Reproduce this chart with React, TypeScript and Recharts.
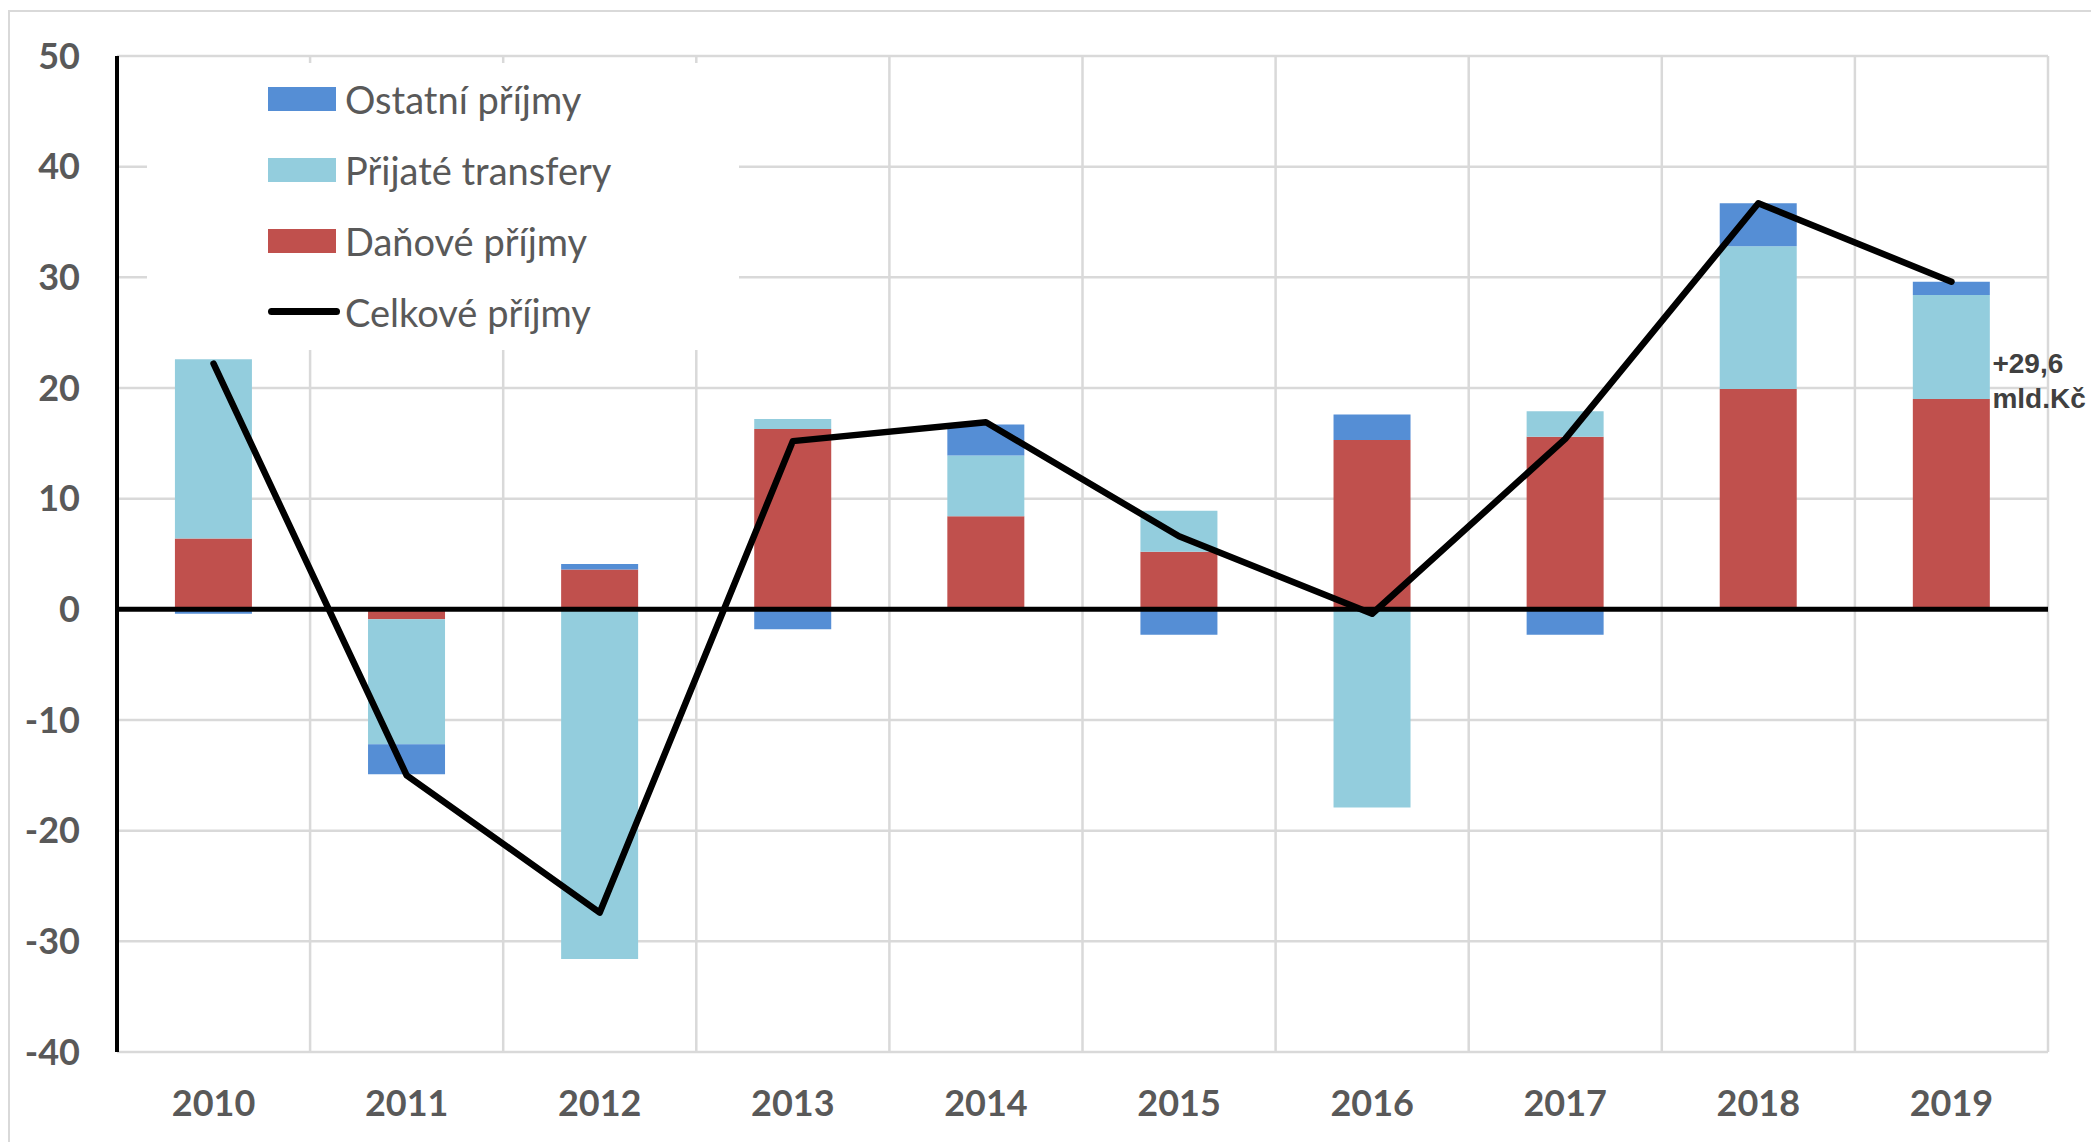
import React from "react";
import {
  ComposedChart,
  Bar,
  Line,
  XAxis,
  YAxis,
  CartesianGrid,
  ReferenceLine,
  Legend,
  LabelList,
} from "recharts";

// meziroční změna příjmů (mld. Kč)
const years = ["2010", "2011", "2012", "2013", "2014", "2015", "2016", "2017", "2018", "2019"];
const danovePrijmy = [6.4, -0.9, 3.6, 16.3, 8.4, 5.2, 15.3, 15.6, 19.9, 19.0];
const prijateTransfery = [16.2, -11.3, -31.6, 0.9, 5.5, 3.7, -17.9, 2.3, 12.9, 9.4];
const ostatniPrijmy = [-0.4, -2.7, 0.5, -1.8, 2.8, -2.3, 2.3, -2.3, 3.9, 1.2];
const celkovePrijmy = [22.2, -15.0, -27.4, 15.2, 16.9, 6.6, -0.4, 15.4, 36.7, 29.6];

const yTicks = [-40, -30, -20, -10, 0, 10, 20, 30, 40, 50];

const COLORS = {
  ostatni: "#558ED5",
  transfery: "#93CDDD",
  danove: "#C0504D",
  celkove: "#000000",
};

const legendItems = [
  { name: "Ostatní příjmy", color: COLORS.ostatni, type: "rect" },
  { name: "Přijaté transfery", color: COLORS.transfery, type: "rect" },
  { name: "Daňové příjmy", color: COLORS.danove, type: "rect" },
  { name: "Celkové příjmy", color: COLORS.celkove, type: "line" },
];

const data = years.map((year, i) => ({
  year,
  danove: danovePrijmy[i],
  transfery: prijateTransfery[i],
  ostatni: ostatniPrijmy[i],
  celkove: celkovePrijmy[i],
}));

const FONT = "Lato, 'Open Sans', sans-serif";

// svislá mřížka na hranicích kategorií (ne uprostřed)
function categoryBoundaries(props: any) {
  const off = props && props.offset ? props.offset : { left: 117, width: 1931 };
  const n = years.length;
  return Array.from({ length: n + 1 }, (_, i) => off.left + (i * off.width) / n);
}

function LegendBox() {
  return (
    <div style={{ width: "100%", height: "100%", background: "#fff" }}>
      {legendItems.map((item) => (
        <div
          key={item.name}
          style={{ height: 71, display: "flex", alignItems: "center", paddingLeft: 121 }}
        >
          {item.type === "rect" ? (
            <div style={{ width: 68, height: 24, background: item.color }} />
          ) : (
            <div style={{ width: 72, height: 7, borderRadius: 4, background: item.color }} />
          )}
          <span
            style={{
              marginLeft: item.type === "rect" ? 9 : 5,
              fontFamily: FONT,
              fontSize: 38,
              color: "#595959",
              whiteSpace: "nowrap",
            }}
          >
            {item.name}
          </span>
        </div>
      ))}
    </div>
  );
}

function LastPointLabel(props: any) {
  const { x, y, index, value } = props;
  if (index !== years.length - 1) return null;
  const txt = "+" + Number(value).toFixed(1).replace(".", ",");
  return (
    <text
      x={x + 41}
      y={y + 91}
      fontFamily="'Liberation Sans', Arial, sans-serif"
      fontWeight="bold"
      fontSize={28}
      fill="#404040"
    >
      <tspan x={x + 41}>{txt}</tspan>
      <tspan x={x + 41} dy={35}>
        mld.Kč
      </tspan>
    </text>
  );
}

export default function App() {
  return (
    <div
      style={{
        position: "absolute",
        left: 0,
        top: 0,
        width: 2091,
        height: 1142,
        background: "#fff",
        overflow: "hidden",
      }}
    >
      <div
        style={{
          position: "absolute",
          left: 8,
          top: 10,
          width: 2200,
          height: 1300,
          border: "2px solid #d9d9d9",
        }}
      />
      <div style={{ position: "absolute", left: 0, top: 0 }}>
        <ComposedChart
          width={2091}
          height={1142}
          data={data}
          stackOffset="sign"
          barCategoryGap="30%"
          margin={{ top: 56, right: 43, bottom: 0, left: 0 }}
        >
          <CartesianGrid
            stroke="#d9d9d9"
            strokeWidth={2.5}
            verticalCoordinatesGenerator={categoryBoundaries}
          />
          <XAxis
            dataKey="year"
            axisLine={false}
            tickLine={false}
            tickSize={0}
            tickMargin={38}
            height={90}
            tick={{ fontFamily: FONT, fontWeight: 700, fontSize: 36, fill: "#595959" }}
          />
          <YAxis
            width={117}
            domain={[-40, 50]}
            ticks={yTicks}
            interval={0}
            axisLine={{ stroke: "#000", strokeWidth: 4 }}
            tickLine={false}
            tickSize={0}
            tickMargin={37}
            tick={{ fontFamily: FONT, fontWeight: 700, fontSize: 36, fill: "#595959" }}
          />
          <Bar dataKey="danove" name="Daňové příjmy" stackId="a" fill={COLORS.danove} isAnimationActive={false} />
          <Bar dataKey="transfery" name="Přijaté transfery" stackId="a" fill={COLORS.transfery} isAnimationActive={false} />
          <Bar dataKey="ostatni" name="Ostatní příjmy" stackId="a" fill={COLORS.ostatni} isAnimationActive={false} />
          <ReferenceLine y={0} stroke="#000" strokeWidth={5} />
          <Line
            dataKey="celkove"
            name="Celkové příjmy"
            type="linear"
            stroke={COLORS.celkove}
            strokeWidth={6.5}
            strokeLinecap="round"
            strokeLinejoin="round"
            dot={false}
            activeDot={false}
            isAnimationActive={false}
          >
            <LabelList dataKey="celkove" content={LastPointLabel} />
          </Line>
          <Legend
            layout="vertical"
            align="center"
            verticalAlign="middle"
            content={() => <LegendBox />}
            wrapperStyle={{ left: 147, top: 63, width: 592, height: 287, right: "auto", bottom: "auto" }}
          />
        </ComposedChart>
      </div>
    </div>
  );
}
